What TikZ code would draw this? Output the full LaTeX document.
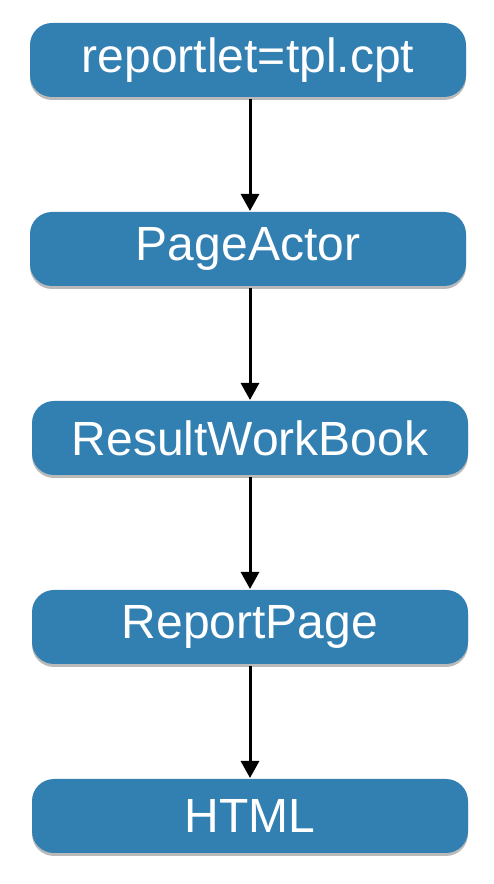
\documentclass[tikz,border=0pt]{standalone}
\usepackage{fontspec}
\setmainfont{Liberation Sans}
\usetikzlibrary{positioning,arrows.meta,shadows}
\definecolor{stepblue}{RGB}{50,127,178}

\begin{document}
\begin{tikzpicture}
[x=1pt,y=1pt,
 every node/.style={inner sep=0pt,outer sep=0pt},
 stage/.style={rectangle,rounded corners=22pt,fill=stepblue,text=white,
   minimum width=436pt,minimum height=74pt,font=\fontsize{48}{52}\selectfont,
   drop shadow={shadow xshift=0pt,shadow yshift=-3pt,opacity=0.45,fill=black!60}},
 flow/.style={-{Triangle[width=18pt,length=17pt]},line width=3pt,shorten <=2pt,shorten >=1pt},
 node distance=189pt]
\useasboundingbox (0,0) rectangle (494,884);
\node[stage] (tpl)                            at (248,824) {reportlet=tpl.cpt};
\node[stage] (actor)  [on grid,below=of tpl]                {PageActor};
\node[stage] (book)   [on grid,below right=189pt and 2pt of actor] {ResultWorkBook};
\node[stage] (page)   [on grid,below=of book]               {ReportPage};
\node[stage] (html)   [on grid,below=of page]               {HTML};
\path[flow] (tpl.south -| 250,0)   edge (actor.north -| 250,0);
\path[flow] (actor.south -| 250,0) edge (book.north -| 250,0);
\path[flow] (book.south -| 250,0)  edge (page.north -| 250,0);
\path[flow] (page.south -| 250,0)  edge (html.north -| 250,0);
\end{tikzpicture}
\end{document}
